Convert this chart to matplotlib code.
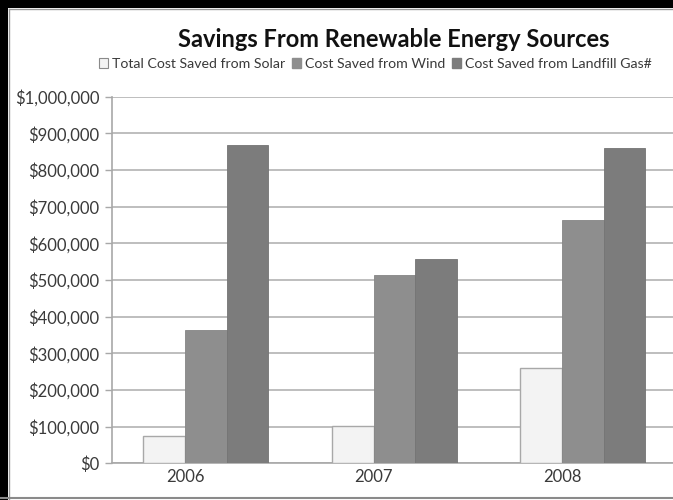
import matplotlib
matplotlib.use("Agg")
import matplotlib.pyplot as plt
import numpy as np
from matplotlib.patches import Rectangle
from matplotlib.lines import Line2D

years = ["2006", "2007", "2008"]
solar = [75000, 103000, 261000]
wind = [364000, 515000, 664000]
gas = [868000, 556000, 859000]
series_names = ["Total Cost Saved from Solar", "Cost Saved from Wind", "Cost Saved from Landfill Gas#"]
yticks = [0, 100000, 200000, 300000, 400000, 500000, 600000, 700000, 800000, 900000, 1000000]

plt.rcParams['font.family'] = ['Lato', 'DejaVu Sans']

W, H = 673, 500
fig = plt.figure(figsize=(W / 100, H / 100), dpi=100)

# axes placement (pixels)
ax_left, ax_right = 112, 673
ax_bottom, ax_top = 463.3, 96.7
ax = fig.add_axes([ax_left / W, 1 - ax_bottom / H, (ax_right - ax_left) / W, (ax_bottom - ax_top) / H])

x = np.arange(len(years))
w = 0.2212
ax.bar(x - 0.5 * w, solar, w, color="#f3f3f3", edgecolor="#a8a8a8", linewidth=1.0, zorder=3, label=series_names[0])
ax.bar(x + 0.5 * w, wind, w, color="#8e8e8e", edgecolor="#858585", linewidth=0.6, zorder=3, label=series_names[1])
ax.bar(x + 1.5 * w, gas, w, color="#7c7c7c", edgecolor="#747474", linewidth=0.6, zorder=3, label=series_names[2])

ax.set_ylim(0, 1000000)
ax.set_xlim((112 - 185) / 188.5, (673 - 185) / 188.5)
ax.set_yticks(yticks)
ax.set_yticklabels(["${:,.0f}".format(v) for v in yticks])
ax.set_xticks(x)
ax.set_xticklabels(years)
ax.yaxis.grid(True, color="#b9b9b9", linewidth=1.3, zorder=0)
ax.set_axisbelow(True)
for s in ["top", "right"]:
    ax.spines[s].set_visible(False)
ax.spines["left"].set_color("#a8a8a8")
ax.spines["bottom"].set_color("#a8a8a8")
ax.spines["left"].set_linewidth(1.2)
ax.spines["bottom"].set_linewidth(1.2)
ax.tick_params(axis="y", length=5, width=1.0, color="#a8a8a8", labelsize=12, labelcolor="#3a3a3a", pad=4)
ax.tick_params(axis="x", length=0, labelsize=12, labelcolor="#3a3a3a", pad=4)

# title
fig.text(393.5 / W, 1 - 39.5 / H, "Savings From Renewable Energy Sources", ha="center", va="center",
         fontsize=17, fontweight="bold", color="#111111")

# legend
handles = [Rectangle((0, 0), 1, 1, facecolor="#f3f3f3", edgecolor="#8a8a8a", linewidth=0.8),
           Rectangle((0, 0), 1, 1, facecolor="#8e8e8e", edgecolor="#8e8e8e"),
           Rectangle((0, 0), 1, 1, facecolor="#7c7c7c", edgecolor="#7c7c7c")]
fig.legend(handles, series_names, loc="center", bbox_to_anchor=(375.5 / W, 1 - 64 / H), ncol=3,
           frameon=False, fontsize=10.2, handlelength=0.65, handleheight=0.65, handletextpad=0.3,
           columnspacing=0.45, labelcolor="#3a3a3a", borderpad=0, borderaxespad=0)

# frame: thick black top and left, thin gray inner lines, gray bottom line
fig.add_artist(Rectangle((0, 1 - 8 / H), 1, 8 / H, transform=fig.transFigure, facecolor="black", edgecolor="none"))
fig.add_artist(Rectangle((0, 0), 8 / W, 1, transform=fig.transFigure, facecolor="black", edgecolor="none"))
fig.add_artist(Line2D([9 / W, 1], [1 - 9 / H, 1 - 9 / H], transform=fig.transFigure, color="#9a9a9a", lw=1))
fig.add_artist(Line2D([9 / W, 9 / W], [0, 1 - 9 / H], transform=fig.transFigure, color="#9a9a9a", lw=1))
fig.add_artist(Line2D([0, 1], [1 - 497.5 / H, 1 - 497.5 / H], transform=fig.transFigure, color="#8a8a8a", lw=1.5))

fig.savefig("out.png", dpi=100)
